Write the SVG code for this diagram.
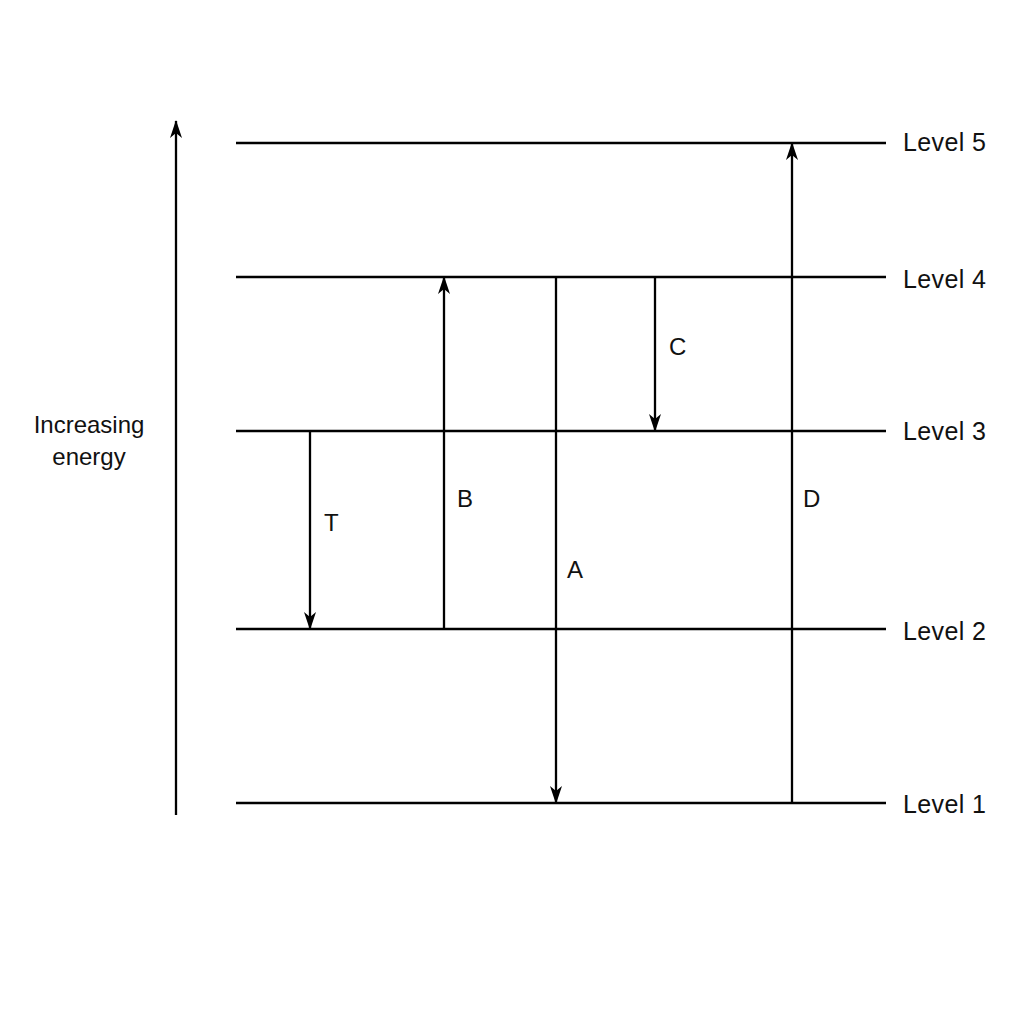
<svg xmlns="http://www.w3.org/2000/svg" width="1024" height="1024" viewBox="0 0 1024 1024">
<defs>
<marker id="ah" viewBox="0 0 18 12" markerWidth="18" markerHeight="12" refX="17" refY="6" orient="auto" markerUnits="userSpaceOnUse">
<path d="M0,0 L18,6 L0,12 L5,6 Z" fill="#000"/>
</marker>
<style>
.lvl{stroke:#000;stroke-width:2.3;fill:none}
.arr{stroke:#000;stroke-width:2.3;fill:none;marker-end:url(#ah)}
.t{font-family:"Liberation Sans",Arial,sans-serif;font-size:24px;fill:#111}
.lv{font-size:25px;letter-spacing:0.4px}
</style>
</defs>
<rect width="1024" height="1024" fill="#fff"/>
<g id="axis">
<line class="arr" x1="176" y1="815" x2="176" y2="121"/>
<text class="t" x="89" y="433" text-anchor="middle">Increasing</text>
<text class="t" x="89" y="465" text-anchor="middle">energy</text>
</g>
<g id="level5"><line class="lvl" x1="236" y1="143" x2="886" y2="143"/><text class="t lv" x="903" y="151">Level 5</text></g>
<g id="level4"><line class="lvl" x1="236" y1="277" x2="886" y2="277"/><text class="t lv" x="903" y="288">Level 4</text></g>
<g id="level3"><line class="lvl" x1="236" y1="431" x2="886" y2="431"/><text class="t lv" x="903" y="440">Level 3</text></g>
<g id="level2"><line class="lvl" x1="236" y1="629" x2="886" y2="629"/><text class="t lv" x="903" y="640">Level 2</text></g>
<g id="level1"><line class="lvl" x1="236" y1="803" x2="886" y2="803"/><text class="t lv" x="903" y="813">Level 1</text></g>
<g id="connectors">
<line class="arr" x1="310" y1="431" x2="310" y2="629"/>
<line class="arr" x1="444" y1="629" x2="444" y2="277"/>
<line class="arr" x1="556" y1="277" x2="556" y2="803"/>
<line class="arr" x1="655" y1="277" x2="655" y2="431"/>
<line class="arr" x1="792" y1="803" x2="792" y2="143"/>
</g>
<g id="labels">
<text class="t" x="324" y="531">T</text>
<text class="t" x="457" y="507">B</text>
<text class="t" x="567" y="578">A</text>
<text class="t" x="669" y="355">C</text>
<text class="t" x="803" y="507">D</text>
</g>
</svg>
